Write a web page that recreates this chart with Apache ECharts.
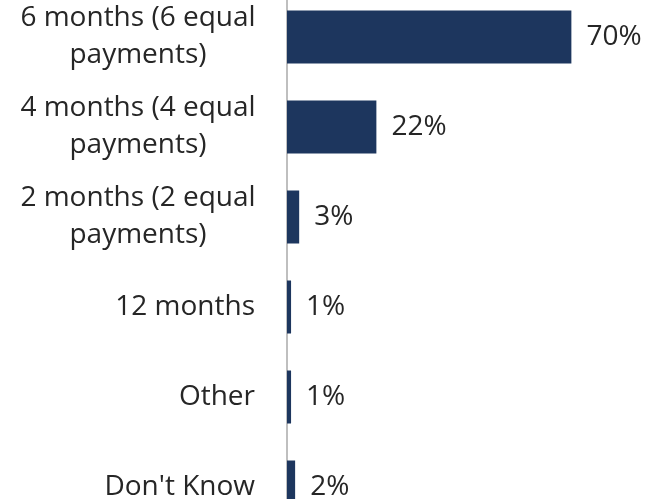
<!DOCTYPE html>
<html>
<head>
<meta charset="utf-8">
<script src="https://cdn.jsdelivr.net/npm/echarts@6/dist/echarts.min.js"></script>
<style>
html,body{margin:0;padding:0;background:#fff;overflow:hidden;width:658px;height:499px;}
#wrap{position:relative;width:658px;height:499px;overflow:hidden;}
#chart{position:absolute;left:0;top:-8.5px;width:658px;height:540px;}
</style>
</head>
<body>
<div id="wrap"><div id="chart"></div></div>
<script>
const categories = [
  '6 months (6 equal\npayments)',
  '4 months (4 equal\npayments)',
  '2 months (2 equal\npayments)',
  '12 months',
  'Other',
  "Don't Know"
];
const values = [70, 22, 3, 1, 1, 2];

const chart = echarts.init(document.getElementById('chart'), null, {renderer: 'canvas'});
const FONT = 'Open Sans';
const FS = 28;
chart.setOption({
  animation: false,
  backgroundColor: '#ffffff',
  grid: {left: 287, right: 46, top: 0, bottom: 0, containLabel: false},
  xAxis: {
    type: 'value', min: 0, max: 80, show: false
  },
  yAxis: {
    type: 'category',
    data: categories,
    inverse: true,
    axisLine: {show: true, lineStyle: {color: '#bfbfbf', width: 2}},
    axisTick: {show: false},
    axisLabel: {
      margin: 32,
      color: '#262626',
      fontFamily: FONT,
      fontSize: FS,
      lineHeight: 37,
      align: 'right',
      formatter: v => v.indexOf('\n') >= 0
        ? v.split('\n').map(s => '{c|' + s + '}').join('\n')
        : v,
      rich: {
        c: {
          width: 234,
          align: 'center',
          color: '#262626',
          fontFamily: FONT,
          fontSize: FS,
          lineHeight: 37
        }
      }
    }
  },
  series: [{
    type: 'bar',
    data: values,
    barWidth: 53,
    itemStyle: {color: '#1d365e'},
    label: {
      show: true,
      position: 'right',
      distance: 15,
      formatter: p => p.value + '%',
      color: '#262626',
      fontFamily: FONT,
      fontSize: FS
    }
  }]
});
</script>
</body>
</html>
